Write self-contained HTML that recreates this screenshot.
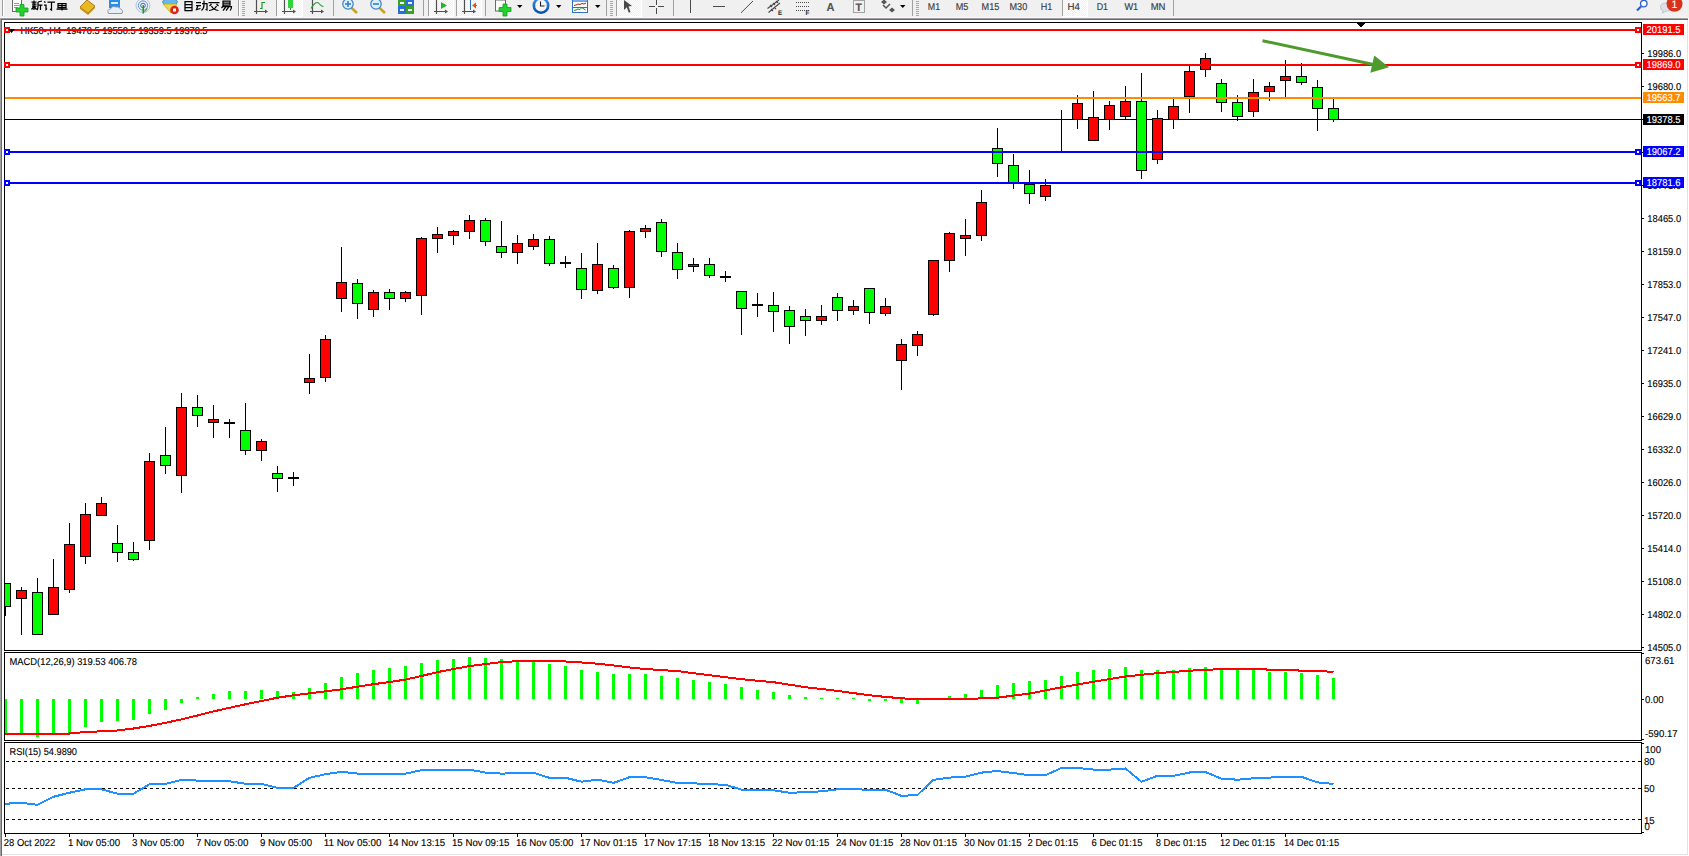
<!DOCTYPE html><html><head><meta charset="utf-8"><style>html,body{margin:0;padding:0;background:#fff;}body{width:1689px;height:856px;overflow:hidden;position:relative;font-family:"Liberation Sans", sans-serif;}svg{position:absolute;left:0;top:0;display:block;}text{font-family:"Liberation Sans",sans-serif;text-rendering:geometricPrecision;}</style></head><body>
<svg width="1689" height="856" viewBox="0 0 1689 856">
<rect x="0" y="0" width="1689" height="856" fill="#fff"/>
<rect x="0" y="0" width="1689" height="18" fill="#f0f0f0"/>
<g font-family="Liberation Sans, sans-serif">
<defs><pattern id="chk" x="0" y="0" width="2" height="2" patternUnits="userSpaceOnUse"><rect x="0" y="0" width="2" height="2" fill="#f0f0f0"/><rect x="0" y="0" width="1" height="1" fill="#fff"/><rect x="1" y="1" width="1" height="1" fill="#fff"/></pattern></defs>
<rect x="2" y="0" width="1" height="16" fill="#a0a0a0"/>
<rect x="3" y="0" width="1" height="16" fill="#ffffff"/>
<path d="M12.5,0 V11.5 H19 M12.5,0 H21.5 V6" fill="#fff" stroke="#7a7a7a" stroke-width="1"/>
<rect x="13" y="0" width="8" height="11" fill="#fdfdfd"/>
<path d="M12.5,0 V11.5 H17.5 M21.5,0 V5" fill="none" stroke="#6a6a6a" stroke-width="1"/>
<rect x="14" y="3" width="5" height="1" fill="#9a9a9a"/>
<rect x="14" y="5" width="5" height="1" fill="#9a9a9a"/>
<rect x="14" y="7" width="4" height="1" fill="#9a9a9a"/>
<path d="M20,4.5 h4 v3.5 h4 v4 h-4 v4 h-4 v-4 h-4 v-4 h4 z" fill="#22d22e" stroke="#159c1e" stroke-width="0.8"/>
<path d="M31,1.5 h5 M31.5,3.5 h4.5 M33.5,0 v9.5 M31.5,5.5 h4.5 M31,9 l2,-2.5 M36,9 l-2,-2.5 M37.5,1.5 v4 q0,3 -1,4 M37.5,4.5 h4.5 M40,4.5 v5 M37.5,1.5 l4,-1 M43.5,1 l1.5,1 M43.5,4.5 h2 v4.5 l1,-1 M47.0,1.5 h7.5 M51.0,1.5 v8 l-1.5,-1 M57.5,3 h8 v4 h-8 z M57.5,5 h8 M61.5,3 v7 M56,8.5 h11" fill="none" stroke="#000" stroke-width="1.25" transform="translate(0.5,0.5)"/>
<path d="M80,7 L87,0 L95,6 L88,13 Z" fill="#e8b923" stroke="#a9791a" stroke-width="1"/>
<path d="M80,7 L80,9 L88,15 L95,8 L95,6 L88,13 Z" fill="#c79416"/>
<rect x="109" y="0" width="11" height="8" fill="#2a8ee8"/>
<rect x="111" y="2" width="7" height="2" fill="#d9efff"/>
<path d="M108.5,13.5 Q106.5,9.5 110.5,9 Q112,5.5 116,7 Q119,6 120.5,9 Q123.5,10 122,13.5 Z" fill="#e8eef6" stroke="#8797b0" stroke-width="1"/>
<circle cx="143" cy="5.5" r="7" fill="none" stroke="#a9c3e8" stroke-width="1"/>
<circle cx="143" cy="5.5" r="4.6" fill="none" stroke="#5f8fd6" stroke-width="1"/>
<circle cx="143" cy="5.5" r="2.3" fill="none" stroke="#2f68c6" stroke-width="1"/>
<path d="M147,8 A5,5 0 0 1 143,12" fill="none" stroke="#5ab55a" stroke-width="1.2"/>
<rect x="142.5" y="5" width="1.5" height="8.5" fill="#1f9a2a"/>
<ellipse cx="170" cy="2" rx="7.5" ry="3.5" fill="#67b8e8" stroke="#3a88c0" stroke-width="0.8"/>
<path d="M163,4 L177,4 L171,13 Z" fill="#f1d54a" stroke="#c9a21e" stroke-width="0.8"/>
<circle cx="174.5" cy="10" r="4.3" fill="#d8261c"/>
<rect x="173" y="8.5" width="3" height="3" fill="#fff"/>
<path d="M184.5,1 h7 v9 h-7 z M184.5,4 h7 M184.5,7 h7 M195.5,2 h5 M195.5,5 h5 M197.5,5 l-1.5,4 l4,-1 M201.5,3 h5 v6.5 l-1.5,-0.5 M203.5,0 v4 q0,4 -2.5,6 M208,2 h11 M211,3.5 l-2,2 M216,3.5 l2,2 M211,5.5 q2,4 7,4.5 M216,5.5 q-2,4 -7.5,4.5 M222.5,0.5 h7 v4 h-7 z M222.5,2.5 h7 M223.5,4.5 l-2.5,3 M222.5,6 h8.5 q0,3 -1.5,4 M225.5,6 l-3,4 M228.5,6 l-3,4" fill="none" stroke="#000" stroke-width="1.25" transform="translate(0.5,0.5)"/>
<rect x="238" y="0" width="1" height="16" fill="#a0a0a0"/>
<rect x="239" y="0" width="1" height="16" fill="#ffffff"/>
<rect x="242" y="1" width="3" height="1" fill="#a8a8a8"/>
<rect x="242" y="3" width="3" height="1" fill="#a8a8a8"/>
<rect x="242" y="5" width="3" height="1" fill="#a8a8a8"/>
<rect x="242" y="7" width="3" height="1" fill="#a8a8a8"/>
<rect x="242" y="9" width="3" height="1" fill="#a8a8a8"/>
<rect x="242" y="11" width="3" height="1" fill="#a8a8a8"/>
<rect x="242" y="13" width="3" height="1" fill="#a8a8a8"/>
<rect x="242" y="15" width="3" height="1" fill="#a8a8a8"/>
<path d="M256.5,0 V14 M254,11.5 H267" fill="none" stroke="#505050" stroke-width="1.2"/><path d="M265,9.5 L268,11.5 L265,13.5 Z" fill="#505050"/>
<path d="M260,8.5 h2 v-6 h3" fill="none" stroke="#1f9a2a" stroke-width="1.2"/>
<rect x="276" y="0" width="1" height="16" fill="#a0a0a0"/>
<rect x="277" y="0" width="25" height="16" fill="url(#chk)"/>
<rect x="277" y="16" width="26" height="1" fill="#fff"/>
<rect x="302" y="0" width="1" height="16" fill="#fff"/>
<path d="M284.5,0 V14 M282,11.5 H295" fill="none" stroke="#505050" stroke-width="1.2"/><path d="M293,9.5 L296,11.5 L293,13.5 Z" fill="#505050"/>
<rect x="288" y="0" width="5" height="8" fill="#2fd33a"/>
<rect x="290" y="8" width="1" height="2" fill="#1f9a2a"/>
<path d="M312.5,0 V14 M310,11.5 H323" fill="none" stroke="#505050" stroke-width="1.2"/><path d="M321,9.5 L324,11.5 L321,13.5 Z" fill="#505050"/>
<path d="M311,8.5 Q316,0 319,3.5 T323.5,6.5" fill="none" stroke="#2b9a35" stroke-width="1.1"/>
<rect x="333" y="0" width="1" height="16" fill="#a0a0a0"/>
<line x1="351" y1="7.5" x2="357" y2="13" stroke="#c9a21e" stroke-width="2.6"/>
<circle cx="348" cy="4" r="5.2" fill="#dbeffa" stroke="#3a80c6" stroke-width="1.2"/>
<rect x="345" y="3.2" width="6" height="1.6" fill="#3a80c6"/>
<rect x="347.2" y="1" width="1.6" height="6" fill="#3a80c6"/>
<line x1="379" y1="7.5" x2="385" y2="13" stroke="#c9a21e" stroke-width="2.6"/>
<circle cx="376" cy="4" r="5.2" fill="#dbeffa" stroke="#3a80c6" stroke-width="1.2"/>
<rect x="373" y="3.2" width="6" height="1.6" fill="#3a80c6"/>
<rect x="398" y="0" width="8" height="6" fill="#3aa02a"/>
<rect x="406" y="0" width="8" height="6" fill="#2a6fd6"/>
<rect x="398" y="6" width="8" height="8" fill="#2a6fd6"/>
<rect x="406" y="6" width="8" height="8" fill="#3aa02a"/>
<rect x="400" y="2" width="4" height="2" fill="#eef"/>
<rect x="408" y="2" width="4" height="2" fill="#eef"/>
<rect x="400" y="9" width="4" height="2" fill="#eef"/>
<rect x="408" y="9" width="4" height="2" fill="#eef"/>
<rect x="423" y="0" width="1" height="16" fill="#a0a0a0"/>
<rect x="428" y="0" width="1" height="16" fill="#a0a0a0"/>
<rect x="429" y="0" width="24" height="16" fill="url(#chk)"/>
<rect x="429" y="16" width="25" height="1" fill="#fff"/>
<rect x="453" y="0" width="1" height="16" fill="#fff"/>
<path d="M436.5,0 V14 M434,11.5 H447" fill="none" stroke="#505050" stroke-width="1.2"/><path d="M445,9.5 L448,11.5 L445,13.5 Z" fill="#505050"/>
<polygon points="441,2 447,5.5 441,9" fill="#22b52e"/>
<rect x="456" y="0" width="1" height="16" fill="#a0a0a0"/>
<rect x="457" y="0" width="24" height="16" fill="url(#chk)"/>
<rect x="457" y="16" width="25" height="1" fill="#fff"/>
<rect x="481" y="0" width="1" height="16" fill="#fff"/>
<path d="M464.5,0 V14 M462,11.5 H475" fill="none" stroke="#505050" stroke-width="1.2"/><path d="M473,9.5 L476,11.5 L473,13.5 Z" fill="#505050"/>
<rect x="470" y="0" width="1" height="10" fill="#2a6fb6"/>
<path d="M472,5.5 L476,2.5 L476,8.5 Z" fill="#e0561b"/>
<rect x="474" y="5" width="3" height="1" fill="#e0561b"/>
<rect x="485" y="0" width="1" height="16" fill="#a0a0a0"/>
<rect x="495.5" y="0" width="10" height="11" fill="#fdfdfd" stroke="#6a6a6a" stroke-width="1"/>
<path d="M503,4 h4 v3.5 h4 v4 h-4 v4.5 h-4 v-4.5 h-4 v-4 h4 z" fill="#22d22e" stroke="#159c1e" stroke-width="0.8"/>
<polygon points="517,5 522.5,5 519.75,8" fill="#000"/>
<defs><linearGradient id="clk" x1="0" y1="0" x2="0" y2="1"><stop offset="0" stop-color="#3d8fe6"/><stop offset="1" stop-color="#0b4fb0"/></linearGradient></defs>
<circle cx="541" cy="5.5" r="7.2" fill="#f4f6f8" stroke="url(#clk)" stroke-width="2.6"/>
<path d="M540.5,1.5 V6 H544.5" fill="none" stroke="#222" stroke-width="1.1"/>
<path d="M541,-0.5 v0.8 M541,10.6 v0.8 M535.5,5.5 h0.8 M545.7,5.5 h0.8" stroke="#999" stroke-width="0.8"/>
<polygon points="556,5 561.5,5 558.75,8" fill="#000"/>
<rect x="572.5" y="-1" width="15" height="13.5" fill="#fff" stroke="#2f6fc6" stroke-width="1"/>
<rect x="573" y="0" width="14" height="2" fill="#7aa8e0"/>
<rect x="573" y="7" width="14" height="1" fill="#2f6fc6"/>
<path d="M574,5.5 l2,-0.5 l2,-1 l2,0.5 l2,-1 l2,0.5 l2,-1" fill="none" stroke="#a0281c" stroke-width="1"/>
<path d="M574,10.5 l2,-0.5 l2,-1 l2,0.5 l2,-2 l2,1.5 l1.5,1" fill="none" stroke="#1f8a2a" stroke-width="1"/>
<polygon points="595,5 600.5,5 597.75,8" fill="#000"/>
<rect x="606" y="0" width="1" height="16" fill="#a0a0a0"/>
<rect x="610" y="1" width="3" height="1" fill="#a8a8a8"/>
<rect x="610" y="3" width="3" height="1" fill="#a8a8a8"/>
<rect x="610" y="5" width="3" height="1" fill="#a8a8a8"/>
<rect x="610" y="7" width="3" height="1" fill="#a8a8a8"/>
<rect x="610" y="9" width="3" height="1" fill="#a8a8a8"/>
<rect x="610" y="11" width="3" height="1" fill="#a8a8a8"/>
<rect x="610" y="13" width="3" height="1" fill="#a8a8a8"/>
<rect x="610" y="15" width="3" height="1" fill="#a8a8a8"/>
<rect x="616" y="0" width="1" height="16" fill="#a0a0a0"/>
<rect x="617" y="0" width="24" height="16" fill="url(#chk)"/>
<rect x="617" y="16" width="25" height="1" fill="#fff"/>
<rect x="641" y="0" width="1" height="16" fill="#fff"/>
<path d="M624,0 L632,6 L628.5,6.5 L630.5,12 L628.8,12.7 L626.8,7.3 L624,10 Z" fill="#4a4a4a"/>
<rect x="649" y="6" width="6" height="1" fill="#4a4a4a"/>
<rect x="658" y="6" width="6" height="1" fill="#4a4a4a"/>
<rect x="656" y="0" width="1" height="5" fill="#4a4a4a"/>
<rect x="656" y="8" width="1" height="6" fill="#4a4a4a"/>
<rect x="673" y="0" width="1" height="16" fill="#a0a0a0"/>
<rect x="690" y="0" width="1" height="13" fill="#4a4a4a"/>
<rect x="713" y="6" width="12" height="1" fill="#4a4a4a"/>
<line x1="741" y1="12.8" x2="753" y2="1" stroke="#4a4a4a" stroke-width="1"/>
<path d="M767.5,8.5 L779,0 M768.5,12.5 L780,3 M770,5 l2,2 M773,3 l2,2 M776,1 l2,2 M771,9 l2,2 M774,7 l2,2" fill="none" stroke="#4a4a4a" stroke-width="1.1"/>
<text transform="translate(778,15) scale(0.96,1)" font-size="6.5" fill="#333" text-anchor="start" font-weight="bold" stroke="#333" stroke-width="0.12">E</text>
<line x1="796" y1="2.5" x2="809" y2="2.5" stroke="#4a4a4a" stroke-width="1" stroke-dasharray="1,1"/>
<line x1="796" y1="6.5" x2="809" y2="6.5" stroke="#4a4a4a" stroke-width="1" stroke-dasharray="1,1"/>
<line x1="796" y1="10.5" x2="809" y2="10.5" stroke="#4a4a4a" stroke-width="1" stroke-dasharray="1,1"/>
<text transform="translate(805.5,15) scale(0.96,1)" font-size="6.5" fill="#333" text-anchor="start" font-weight="bold" stroke="#333" stroke-width="0.12">F</text>
<text transform="translate(826.5,11) scale(0.96,1)" font-size="11.5" fill="#555" text-anchor="start" font-weight="bold" stroke="#555" stroke-width="0.12">A</text>
<rect x="853.5" y="0.5" width="11" height="12" fill="none" stroke="#555" stroke-width="1" stroke-dasharray="1,1"/>
<text transform="translate(855.5,10.5) scale(0.96,1)" font-size="11" fill="#555" text-anchor="start" font-weight="bold" stroke="#555" stroke-width="0.12">T</text>
<path d="M881,2 l3,-2.5 l3,2.5 l-3,2.5 z M889,10 l3,-2.5 l3,2.5 l-3,2.5 z" fill="#555"/>
<path d="M883,5 l3,3 l4,-4" fill="none" stroke="#555" stroke-width="1.5"/>
<polygon points="900,5 905.5,5 902.75,8" fill="#000"/>
<rect x="912" y="0" width="1" height="16" fill="#a0a0a0"/>
<rect x="916" y="1" width="3" height="1" fill="#a8a8a8"/>
<rect x="916" y="3" width="3" height="1" fill="#a8a8a8"/>
<rect x="916" y="5" width="3" height="1" fill="#a8a8a8"/>
<rect x="916" y="7" width="3" height="1" fill="#a8a8a8"/>
<rect x="916" y="9" width="3" height="1" fill="#a8a8a8"/>
<rect x="916" y="11" width="3" height="1" fill="#a8a8a8"/>
<rect x="916" y="13" width="3" height="1" fill="#a8a8a8"/>
<rect x="916" y="15" width="3" height="1" fill="#a8a8a8"/>
<text x="927.8" y="10" font-size="10" fill="#3a3a3a" text-anchor="start" textLength="12.3" lengthAdjust="spacingAndGlyphs" stroke="#3a3a3a" stroke-width="0.15">M1</text>
<text x="955.7" y="10" font-size="10" fill="#3a3a3a" text-anchor="start" textLength="12.6" lengthAdjust="spacingAndGlyphs" stroke="#3a3a3a" stroke-width="0.15">M5</text>
<text x="981.6" y="10" font-size="10" fill="#3a3a3a" text-anchor="start" textLength="17.7" lengthAdjust="spacingAndGlyphs" stroke="#3a3a3a" stroke-width="0.15">M15</text>
<text x="1009.5" y="10" font-size="10" fill="#3a3a3a" text-anchor="start" textLength="17.7" lengthAdjust="spacingAndGlyphs" stroke="#3a3a3a" stroke-width="0.15">M30</text>
<text x="1040.7" y="10" font-size="10" fill="#3a3a3a" text-anchor="start" textLength="11.5" lengthAdjust="spacingAndGlyphs" stroke="#3a3a3a" stroke-width="0.15">H1</text>
<rect x="1062" y="0" width="1" height="16" fill="#a0a0a0"/>
<rect x="1063" y="0" width="24" height="16" fill="url(#chk)"/>
<rect x="1063" y="16" width="25" height="1" fill="#fff"/>
<rect x="1087" y="0" width="1" height="16" fill="#fff"/>
<text x="1067.6" y="10" font-size="10" fill="#3a3a3a" text-anchor="start" textLength="12.4" lengthAdjust="spacingAndGlyphs" stroke="#3a3a3a" stroke-width="0.15">H4</text>
<text x="1096.7" y="10" font-size="10" fill="#3a3a3a" text-anchor="start" textLength="11.3" lengthAdjust="spacingAndGlyphs" stroke="#3a3a3a" stroke-width="0.15">D1</text>
<text x="1124.4" y="10" font-size="10" fill="#3a3a3a" text-anchor="start" textLength="13.8" lengthAdjust="spacingAndGlyphs" stroke="#3a3a3a" stroke-width="0.15">W1</text>
<text x="1150.7" y="10" font-size="10" fill="#3a3a3a" text-anchor="start" textLength="14.8" lengthAdjust="spacingAndGlyphs" stroke="#3a3a3a" stroke-width="0.15">MN</text>
<rect x="1173" y="0" width="1" height="16" fill="#a0a0a0"/>
<line x1="1637" y1="10.5" x2="1641" y2="6.5" stroke="#2a5fd0" stroke-width="2.2"/>
<circle cx="1643.8" cy="3.6" r="3.3" fill="#fff" stroke="#2a5fd0" stroke-width="1.3"/>
<path d="M1662,13 l1.5,-2 q-3,-1 -3,-4 q0,-4 6,-4 q6,0 6,4 q0,4 -6,4 z" fill="#dde0e8" stroke="#b8bcc6" stroke-width="0.8"/>
<circle cx="1674.5" cy="3.8" r="8" fill="#d8321c"/>
<text transform="translate(1674.5,7.5) scale(0.96,1)" font-size="11" fill="#fff" text-anchor="middle" font-family="Liberation Serif, serif" stroke="#fff" stroke-width="0.12">1</text>
</g>
<g shape-rendering="crispEdges">
<rect x="0" y="17" width="1688" height="1" fill="#f7f7f7"/>
<rect x="0" y="18" width="1688" height="1" fill="#a0a0a0"/>
<rect x="1" y="19" width="1687" height="1" fill="#696969"/>
<rect x="0" y="18" width="1" height="838" fill="#a0a0a0"/>
<rect x="1" y="19" width="1" height="837" fill="#696969"/>
<rect x="1687" y="20" width="1" height="835" fill="#e3e3e3"/>
<rect x="2" y="854" width="1686" height="1" fill="#e3e3e3"/>
</g>
<defs><clipPath id="cm"><rect x="5" y="23" width="1636" height="627"/></clipPath><clipPath id="cmacd"><rect x="5" y="653" width="1636" height="87"/></clipPath><clipPath id="crsi"><rect x="5" y="743" width="1636" height="90"/></clipPath></defs>
<g shape-rendering="crispEdges">
<rect x="4" y="22" width="1638" height="1" fill="#000"/>
<rect x="4" y="650" width="1638" height="1" fill="#000"/>
<rect x="4" y="22" width="1" height="629" fill="#000"/>
<rect x="1641" y="22" width="1" height="629" fill="#000"/>
<rect x="4" y="652" width="1638" height="1" fill="#000"/>
<rect x="4" y="740" width="1638" height="1" fill="#000"/>
<rect x="4" y="652" width="1" height="89" fill="#000"/>
<rect x="1641" y="652" width="1" height="89" fill="#000"/>
<rect x="4" y="742" width="1638" height="1" fill="#000"/>
<rect x="4" y="833" width="1638" height="1" fill="#000"/>
<rect x="4" y="742" width="1" height="92" fill="#000"/>
<rect x="1641" y="742" width="1" height="92" fill="#000"/>
</g>
<g font-family="Liberation Sans, sans-serif">
<text x="20.5" y="34" font-size="10" fill="#000" text-anchor="start" textLength="187" lengthAdjust="spacingAndGlyphs" stroke="#000" stroke-width="0.2">HK50-,H4&#160;&#160;19470.5 19550.5 19359.5 19378.5</text>
</g>
<g clip-path="url(#cm)" shape-rendering="crispEdges">
<rect x="5" y="119" width="1636" height="1" fill="#000"/>
<rect x="5" y="583" width="1" height="33" fill="#000"/>
<rect x="0" y="583" width="11" height="24" fill="#000"/>
<rect x="1" y="584" width="9" height="22" fill="#00ff00"/>
<rect x="21" y="587" width="1" height="48" fill="#000"/>
<rect x="16" y="590" width="11" height="9" fill="#000"/>
<rect x="17" y="591" width="9" height="7" fill="#ff0000"/>
<rect x="37" y="578" width="1" height="57" fill="#000"/>
<rect x="32" y="592" width="11" height="43" fill="#000"/>
<rect x="33" y="593" width="9" height="41" fill="#00ff00"/>
<rect x="53" y="559" width="1" height="56" fill="#000"/>
<rect x="48" y="587" width="11" height="28" fill="#000"/>
<rect x="49" y="588" width="9" height="26" fill="#ff0000"/>
<rect x="69" y="523" width="1" height="70" fill="#000"/>
<rect x="64" y="544" width="11" height="46" fill="#000"/>
<rect x="65" y="545" width="9" height="44" fill="#ff0000"/>
<rect x="85" y="503" width="1" height="61" fill="#000"/>
<rect x="80" y="514" width="11" height="43" fill="#000"/>
<rect x="81" y="515" width="9" height="41" fill="#ff0000"/>
<rect x="101" y="497" width="1" height="19" fill="#000"/>
<rect x="96" y="503" width="11" height="13" fill="#000"/>
<rect x="97" y="504" width="9" height="11" fill="#ff0000"/>
<rect x="117" y="525" width="1" height="37" fill="#000"/>
<rect x="112" y="543" width="11" height="10" fill="#000"/>
<rect x="113" y="544" width="9" height="8" fill="#00ff00"/>
<rect x="133" y="542" width="1" height="19" fill="#000"/>
<rect x="128" y="552" width="11" height="8" fill="#000"/>
<rect x="129" y="553" width="9" height="6" fill="#00ff00"/>
<rect x="149" y="453" width="1" height="97" fill="#000"/>
<rect x="144" y="461" width="11" height="80" fill="#000"/>
<rect x="145" y="462" width="9" height="78" fill="#ff0000"/>
<rect x="165" y="427" width="1" height="47" fill="#000"/>
<rect x="160" y="455" width="11" height="11" fill="#000"/>
<rect x="161" y="456" width="9" height="9" fill="#00ff00"/>
<rect x="181" y="393" width="1" height="100" fill="#000"/>
<rect x="176" y="407" width="11" height="69" fill="#000"/>
<rect x="177" y="408" width="9" height="67" fill="#ff0000"/>
<rect x="197" y="395" width="1" height="32" fill="#000"/>
<rect x="192" y="407" width="11" height="9" fill="#000"/>
<rect x="193" y="408" width="9" height="7" fill="#00ff00"/>
<rect x="213" y="405" width="1" height="33" fill="#000"/>
<rect x="208" y="419" width="11" height="4" fill="#000"/>
<rect x="209" y="420" width="9" height="2" fill="#ff0000"/>
<rect x="229" y="419" width="1" height="19" fill="#000"/>
<rect x="224" y="422" width="11" height="2" fill="#000"/>
<rect x="245" y="403" width="1" height="52" fill="#000"/>
<rect x="240" y="430" width="11" height="21" fill="#000"/>
<rect x="241" y="431" width="9" height="19" fill="#00ff00"/>
<rect x="261" y="439" width="1" height="22" fill="#000"/>
<rect x="256" y="441" width="11" height="10" fill="#000"/>
<rect x="257" y="442" width="9" height="8" fill="#ff0000"/>
<rect x="277" y="466" width="1" height="26" fill="#000"/>
<rect x="272" y="473" width="11" height="6" fill="#000"/>
<rect x="273" y="474" width="9" height="4" fill="#00ff00"/>
<rect x="293" y="472" width="1" height="14" fill="#000"/>
<rect x="288" y="477" width="11" height="2" fill="#000"/>
<rect x="309" y="354" width="1" height="40" fill="#000"/>
<rect x="304" y="378" width="11" height="5" fill="#000"/>
<rect x="305" y="379" width="9" height="3" fill="#ff0000"/>
<rect x="325" y="335" width="1" height="47" fill="#000"/>
<rect x="320" y="339" width="11" height="39" fill="#000"/>
<rect x="321" y="340" width="9" height="37" fill="#ff0000"/>
<rect x="341" y="247" width="1" height="65" fill="#000"/>
<rect x="336" y="282" width="11" height="17" fill="#000"/>
<rect x="337" y="283" width="9" height="15" fill="#ff0000"/>
<rect x="357" y="279" width="1" height="40" fill="#000"/>
<rect x="352" y="283" width="11" height="21" fill="#000"/>
<rect x="353" y="284" width="9" height="19" fill="#00ff00"/>
<rect x="373" y="290" width="1" height="27" fill="#000"/>
<rect x="368" y="292" width="11" height="18" fill="#000"/>
<rect x="369" y="293" width="9" height="16" fill="#ff0000"/>
<rect x="389" y="289" width="1" height="21" fill="#000"/>
<rect x="384" y="292" width="11" height="7" fill="#000"/>
<rect x="385" y="293" width="9" height="5" fill="#00ff00"/>
<rect x="405" y="291" width="1" height="11" fill="#000"/>
<rect x="400" y="292" width="11" height="7" fill="#000"/>
<rect x="401" y="293" width="9" height="5" fill="#ff0000"/>
<rect x="421" y="237" width="1" height="78" fill="#000"/>
<rect x="416" y="238" width="11" height="58" fill="#000"/>
<rect x="417" y="239" width="9" height="56" fill="#ff0000"/>
<rect x="437" y="227" width="1" height="26" fill="#000"/>
<rect x="432" y="234" width="11" height="5" fill="#000"/>
<rect x="433" y="235" width="9" height="3" fill="#ff0000"/>
<rect x="453" y="230" width="1" height="15" fill="#000"/>
<rect x="448" y="231" width="11" height="5" fill="#000"/>
<rect x="449" y="232" width="9" height="3" fill="#ff0000"/>
<rect x="469" y="215" width="1" height="24" fill="#000"/>
<rect x="464" y="220" width="11" height="12" fill="#000"/>
<rect x="465" y="221" width="9" height="10" fill="#ff0000"/>
<rect x="485" y="218" width="1" height="28" fill="#000"/>
<rect x="480" y="220" width="11" height="22" fill="#000"/>
<rect x="481" y="221" width="9" height="20" fill="#00ff00"/>
<rect x="501" y="221" width="1" height="37" fill="#000"/>
<rect x="496" y="246" width="11" height="7" fill="#000"/>
<rect x="497" y="247" width="9" height="5" fill="#00ff00"/>
<rect x="517" y="235" width="1" height="29" fill="#000"/>
<rect x="512" y="243" width="11" height="10" fill="#000"/>
<rect x="513" y="244" width="9" height="8" fill="#ff0000"/>
<rect x="533" y="234" width="1" height="16" fill="#000"/>
<rect x="528" y="239" width="11" height="8" fill="#000"/>
<rect x="529" y="240" width="9" height="6" fill="#ff0000"/>
<rect x="549" y="236" width="1" height="30" fill="#000"/>
<rect x="544" y="239" width="11" height="25" fill="#000"/>
<rect x="545" y="240" width="9" height="23" fill="#00ff00"/>
<rect x="565" y="256" width="1" height="12" fill="#000"/>
<rect x="560" y="262" width="11" height="2" fill="#000"/>
<rect x="581" y="253" width="1" height="46" fill="#000"/>
<rect x="576" y="268" width="11" height="22" fill="#000"/>
<rect x="577" y="269" width="9" height="20" fill="#00ff00"/>
<rect x="597" y="243" width="1" height="51" fill="#000"/>
<rect x="592" y="264" width="11" height="27" fill="#000"/>
<rect x="593" y="265" width="9" height="25" fill="#ff0000"/>
<rect x="613" y="265" width="1" height="24" fill="#000"/>
<rect x="608" y="268" width="11" height="20" fill="#000"/>
<rect x="609" y="269" width="9" height="18" fill="#00ff00"/>
<rect x="629" y="230" width="1" height="68" fill="#000"/>
<rect x="624" y="231" width="11" height="57" fill="#000"/>
<rect x="625" y="232" width="9" height="55" fill="#ff0000"/>
<rect x="645" y="225" width="1" height="13" fill="#000"/>
<rect x="640" y="228" width="11" height="4" fill="#000"/>
<rect x="641" y="229" width="9" height="2" fill="#ff0000"/>
<rect x="661" y="219" width="1" height="38" fill="#000"/>
<rect x="656" y="222" width="11" height="30" fill="#000"/>
<rect x="657" y="223" width="9" height="28" fill="#00ff00"/>
<rect x="677" y="243" width="1" height="36" fill="#000"/>
<rect x="672" y="252" width="11" height="18" fill="#000"/>
<rect x="673" y="253" width="9" height="16" fill="#00ff00"/>
<rect x="693" y="258" width="1" height="14" fill="#000"/>
<rect x="688" y="264" width="11" height="3" fill="#000"/>
<rect x="689" y="265" width="9" height="1" fill="#ff0000"/>
<rect x="709" y="258" width="1" height="20" fill="#000"/>
<rect x="704" y="264" width="11" height="12" fill="#000"/>
<rect x="705" y="265" width="9" height="10" fill="#00ff00"/>
<rect x="725" y="271" width="1" height="11" fill="#000"/>
<rect x="720" y="276" width="11" height="2" fill="#000"/>
<rect x="741" y="291" width="1" height="44" fill="#000"/>
<rect x="736" y="291" width="11" height="18" fill="#000"/>
<rect x="737" y="292" width="9" height="16" fill="#00ff00"/>
<rect x="757" y="293" width="1" height="24" fill="#000"/>
<rect x="752" y="304" width="11" height="2" fill="#000"/>
<rect x="773" y="292" width="1" height="40" fill="#000"/>
<rect x="768" y="305" width="11" height="7" fill="#000"/>
<rect x="769" y="306" width="9" height="5" fill="#00ff00"/>
<rect x="789" y="306" width="1" height="38" fill="#000"/>
<rect x="784" y="310" width="11" height="17" fill="#000"/>
<rect x="785" y="311" width="9" height="15" fill="#00ff00"/>
<rect x="805" y="309" width="1" height="27" fill="#000"/>
<rect x="800" y="316" width="11" height="5" fill="#000"/>
<rect x="801" y="317" width="9" height="3" fill="#00ff00"/>
<rect x="821" y="305" width="1" height="20" fill="#000"/>
<rect x="816" y="316" width="11" height="5" fill="#000"/>
<rect x="817" y="317" width="9" height="3" fill="#ff0000"/>
<rect x="837" y="293" width="1" height="28" fill="#000"/>
<rect x="832" y="297" width="11" height="14" fill="#000"/>
<rect x="833" y="298" width="9" height="12" fill="#00ff00"/>
<rect x="853" y="300" width="1" height="15" fill="#000"/>
<rect x="848" y="306" width="11" height="5" fill="#000"/>
<rect x="849" y="307" width="9" height="3" fill="#ff0000"/>
<rect x="869" y="288" width="1" height="36" fill="#000"/>
<rect x="864" y="288" width="11" height="25" fill="#000"/>
<rect x="865" y="289" width="9" height="23" fill="#00ff00"/>
<rect x="885" y="298" width="1" height="18" fill="#000"/>
<rect x="880" y="306" width="11" height="8" fill="#000"/>
<rect x="881" y="307" width="9" height="6" fill="#ff0000"/>
<rect x="901" y="339" width="1" height="51" fill="#000"/>
<rect x="896" y="344" width="11" height="17" fill="#000"/>
<rect x="897" y="345" width="9" height="15" fill="#ff0000"/>
<rect x="917" y="331" width="1" height="25" fill="#000"/>
<rect x="912" y="334" width="11" height="12" fill="#000"/>
<rect x="913" y="335" width="9" height="10" fill="#ff0000"/>
<rect x="933" y="260" width="1" height="56" fill="#000"/>
<rect x="928" y="260" width="11" height="55" fill="#000"/>
<rect x="929" y="261" width="9" height="53" fill="#ff0000"/>
<rect x="949" y="232" width="1" height="40" fill="#000"/>
<rect x="944" y="233" width="11" height="28" fill="#000"/>
<rect x="945" y="234" width="9" height="26" fill="#ff0000"/>
<rect x="965" y="219" width="1" height="37" fill="#000"/>
<rect x="960" y="235" width="11" height="4" fill="#000"/>
<rect x="961" y="236" width="9" height="2" fill="#ff0000"/>
<rect x="981" y="190" width="1" height="51" fill="#000"/>
<rect x="976" y="202" width="11" height="34" fill="#000"/>
<rect x="977" y="203" width="9" height="32" fill="#ff0000"/>
<rect x="997" y="128" width="1" height="49" fill="#000"/>
<rect x="992" y="148" width="11" height="16" fill="#000"/>
<rect x="993" y="149" width="9" height="14" fill="#00ff00"/>
<rect x="1013" y="154" width="1" height="35" fill="#000"/>
<rect x="1008" y="165" width="11" height="18" fill="#000"/>
<rect x="1009" y="166" width="9" height="16" fill="#00ff00"/>
<rect x="1029" y="170" width="1" height="34" fill="#000"/>
<rect x="1024" y="184" width="11" height="10" fill="#000"/>
<rect x="1025" y="185" width="9" height="8" fill="#00ff00"/>
<rect x="1045" y="179" width="1" height="22" fill="#000"/>
<rect x="1040" y="185" width="11" height="12" fill="#000"/>
<rect x="1041" y="186" width="9" height="10" fill="#ff0000"/>
<rect x="1061" y="110" width="1" height="41" fill="#000"/>
<rect x="1056" y="119" width="11" height="1" fill="#000"/>
<rect x="1077" y="95" width="1" height="34" fill="#000"/>
<rect x="1072" y="103" width="11" height="17" fill="#000"/>
<rect x="1073" y="104" width="9" height="15" fill="#ff0000"/>
<rect x="1093" y="91" width="1" height="50" fill="#000"/>
<rect x="1088" y="117" width="11" height="24" fill="#000"/>
<rect x="1089" y="118" width="9" height="22" fill="#ff0000"/>
<rect x="1109" y="101" width="1" height="29" fill="#000"/>
<rect x="1104" y="105" width="11" height="15" fill="#000"/>
<rect x="1105" y="106" width="9" height="13" fill="#ff0000"/>
<rect x="1125" y="86" width="1" height="33" fill="#000"/>
<rect x="1120" y="101" width="11" height="16" fill="#000"/>
<rect x="1121" y="102" width="9" height="14" fill="#ff0000"/>
<rect x="1141" y="73" width="1" height="106" fill="#000"/>
<rect x="1136" y="101" width="11" height="70" fill="#000"/>
<rect x="1137" y="102" width="9" height="68" fill="#00ff00"/>
<rect x="1157" y="110" width="1" height="54" fill="#000"/>
<rect x="1152" y="118" width="11" height="42" fill="#000"/>
<rect x="1153" y="119" width="9" height="40" fill="#ff0000"/>
<rect x="1173" y="99" width="1" height="30" fill="#000"/>
<rect x="1168" y="106" width="11" height="14" fill="#000"/>
<rect x="1169" y="107" width="9" height="12" fill="#ff0000"/>
<rect x="1189" y="66" width="1" height="47" fill="#000"/>
<rect x="1184" y="71" width="11" height="26" fill="#000"/>
<rect x="1185" y="72" width="9" height="24" fill="#ff0000"/>
<rect x="1205" y="53" width="1" height="24" fill="#000"/>
<rect x="1200" y="58" width="11" height="12" fill="#000"/>
<rect x="1201" y="59" width="9" height="10" fill="#ff0000"/>
<rect x="1221" y="79" width="1" height="33" fill="#000"/>
<rect x="1216" y="83" width="11" height="20" fill="#000"/>
<rect x="1217" y="84" width="9" height="18" fill="#00ff00"/>
<rect x="1237" y="95" width="1" height="26" fill="#000"/>
<rect x="1232" y="102" width="11" height="15" fill="#000"/>
<rect x="1233" y="103" width="9" height="13" fill="#00ff00"/>
<rect x="1253" y="79" width="1" height="38" fill="#000"/>
<rect x="1248" y="92" width="11" height="20" fill="#000"/>
<rect x="1249" y="93" width="9" height="18" fill="#ff0000"/>
<rect x="1269" y="82" width="1" height="19" fill="#000"/>
<rect x="1264" y="86" width="11" height="6" fill="#000"/>
<rect x="1265" y="87" width="9" height="4" fill="#ff0000"/>
<rect x="1285" y="60" width="1" height="37" fill="#000"/>
<rect x="1280" y="76" width="11" height="5" fill="#000"/>
<rect x="1281" y="77" width="9" height="3" fill="#ff0000"/>
<rect x="1301" y="63" width="1" height="22" fill="#000"/>
<rect x="1296" y="76" width="11" height="7" fill="#000"/>
<rect x="1297" y="77" width="9" height="5" fill="#00ff00"/>
<rect x="1317" y="80" width="1" height="51" fill="#000"/>
<rect x="1312" y="87" width="11" height="22" fill="#000"/>
<rect x="1313" y="88" width="9" height="20" fill="#00ff00"/>
<rect x="1333" y="99" width="1" height="23" fill="#000"/>
<rect x="1328" y="108" width="11" height="12" fill="#000"/>
<rect x="1329" y="109" width="9" height="10" fill="#00ff00"/>
<rect x="5" y="29" width="1636" height="2" fill="#ff0000"/>
<rect x="4" y="27" width="6" height="6" fill="#ff0000"/>
<rect x="6" y="29" width="2" height="2" fill="#fff"/>
<rect x="1635" y="27" width="6" height="6" fill="#ff0000"/>
<rect x="1637" y="29" width="2" height="2" fill="#fff"/>
<rect x="5" y="64" width="1636" height="2" fill="#ff0000"/>
<rect x="4" y="62" width="6" height="6" fill="#ff0000"/>
<rect x="6" y="64" width="2" height="2" fill="#fff"/>
<rect x="1635" y="62" width="6" height="6" fill="#ff0000"/>
<rect x="1637" y="64" width="2" height="2" fill="#fff"/>
<rect x="5" y="97" width="1636" height="2" fill="#ff8c00"/>
<rect x="5" y="151" width="1636" height="2" fill="#0000ff"/>
<rect x="4" y="149" width="6" height="6" fill="#0000ff"/>
<rect x="6" y="151" width="2" height="2" fill="#fff"/>
<rect x="1635" y="149" width="6" height="6" fill="#0000ff"/>
<rect x="1637" y="151" width="2" height="2" fill="#fff"/>
<rect x="5" y="182" width="1636" height="2" fill="#0000ff"/>
<rect x="4" y="180" width="6" height="6" fill="#0000ff"/>
<rect x="6" y="182" width="2" height="2" fill="#fff"/>
<rect x="1635" y="180" width="6" height="6" fill="#0000ff"/>
<rect x="1637" y="182" width="2" height="2" fill="#fff"/>
<polygon points="1356.5,23 1365.5,23 1361,28" fill="#000"/>
</g>
<g shape-rendering="crispEdges">
<rect x="4" y="27" width="6" height="6" fill="#ff0000"/>
<rect x="6" y="29" width="2" height="2" fill="#fff"/>
<rect x="1635" y="27" width="6" height="6" fill="#ff0000"/>
<rect x="1637" y="29" width="2" height="2" fill="#fff"/>
<rect x="4" y="62" width="6" height="6" fill="#ff0000"/>
<rect x="6" y="64" width="2" height="2" fill="#fff"/>
<rect x="1635" y="62" width="6" height="6" fill="#ff0000"/>
<rect x="1637" y="64" width="2" height="2" fill="#fff"/>
<rect x="4" y="149" width="6" height="6" fill="#0000ff"/>
<rect x="6" y="151" width="2" height="2" fill="#fff"/>
<rect x="1635" y="149" width="6" height="6" fill="#0000ff"/>
<rect x="1637" y="151" width="2" height="2" fill="#fff"/>
<rect x="4" y="180" width="6" height="6" fill="#0000ff"/>
<rect x="6" y="182" width="2" height="2" fill="#fff"/>
<rect x="1635" y="180" width="6" height="6" fill="#0000ff"/>
<rect x="1637" y="182" width="2" height="2" fill="#fff"/>
</g>
<polygon points="8,29 15,29 11.5,33" fill="#000"/>
<g>
<line x1="1262.5" y1="40.7" x2="1378" y2="65.5" stroke="#4f9a2d" stroke-width="3" stroke-linecap="butt"/>
<polygon points="1389,67.3 1374.3,55.5 1370.3,72.8" fill="#4f9a2d"/>
</g>
<g shape-rendering="crispEdges">
<rect x="1642" y="53" width="2" height="1" fill="#000"/>
<rect x="1642" y="86" width="2" height="1" fill="#000"/>
<rect x="1642" y="185" width="2" height="1" fill="#000"/>
<rect x="1642" y="218" width="2" height="1" fill="#000"/>
<rect x="1642" y="251" width="2" height="1" fill="#000"/>
<rect x="1642" y="284" width="2" height="1" fill="#000"/>
<rect x="1642" y="317" width="2" height="1" fill="#000"/>
<rect x="1642" y="350" width="2" height="1" fill="#000"/>
<rect x="1642" y="383" width="2" height="1" fill="#000"/>
<rect x="1642" y="416" width="2" height="1" fill="#000"/>
<rect x="1642" y="449" width="2" height="1" fill="#000"/>
<rect x="1642" y="482" width="2" height="1" fill="#000"/>
<rect x="1642" y="515" width="2" height="1" fill="#000"/>
<rect x="1642" y="548" width="2" height="1" fill="#000"/>
<rect x="1642" y="581" width="2" height="1" fill="#000"/>
<rect x="1642" y="614" width="2" height="1" fill="#000"/>
<rect x="1642" y="647" width="2" height="1" fill="#000"/>
<rect x="1642" y="119" width="2" height="1" fill="#000"/>
<rect x="1642" y="152" width="2" height="1" fill="#000"/>
</g>
<text x="1647.3" y="57" font-size="10" fill="#000" text-anchor="start" textLength="33.8" lengthAdjust="spacingAndGlyphs" stroke="#000" stroke-width="0.12">19986.0</text>
<text x="1647.3" y="90" font-size="10" fill="#000" text-anchor="start" textLength="33.8" lengthAdjust="spacingAndGlyphs" stroke="#000" stroke-width="0.12">19680.0</text>
<text x="1647.3" y="189" font-size="10" fill="#000" text-anchor="start" textLength="33.8" lengthAdjust="spacingAndGlyphs" stroke="#000" stroke-width="0.12">18771.0</text>
<text x="1647.3" y="222" font-size="10" fill="#000" text-anchor="start" textLength="33.8" lengthAdjust="spacingAndGlyphs" stroke="#000" stroke-width="0.12">18465.0</text>
<text x="1647.3" y="255" font-size="10" fill="#000" text-anchor="start" textLength="33.8" lengthAdjust="spacingAndGlyphs" stroke="#000" stroke-width="0.12">18159.0</text>
<text x="1647.3" y="288" font-size="10" fill="#000" text-anchor="start" textLength="33.8" lengthAdjust="spacingAndGlyphs" stroke="#000" stroke-width="0.12">17853.0</text>
<text x="1647.3" y="321" font-size="10" fill="#000" text-anchor="start" textLength="33.8" lengthAdjust="spacingAndGlyphs" stroke="#000" stroke-width="0.12">17547.0</text>
<text x="1647.3" y="354" font-size="10" fill="#000" text-anchor="start" textLength="33.8" lengthAdjust="spacingAndGlyphs" stroke="#000" stroke-width="0.12">17241.0</text>
<text x="1647.3" y="387" font-size="10" fill="#000" text-anchor="start" textLength="33.8" lengthAdjust="spacingAndGlyphs" stroke="#000" stroke-width="0.12">16935.0</text>
<text x="1647.3" y="420" font-size="10" fill="#000" text-anchor="start" textLength="33.8" lengthAdjust="spacingAndGlyphs" stroke="#000" stroke-width="0.12">16629.0</text>
<text x="1647.3" y="453" font-size="10" fill="#000" text-anchor="start" textLength="33.8" lengthAdjust="spacingAndGlyphs" stroke="#000" stroke-width="0.12">16332.0</text>
<text x="1647.3" y="486" font-size="10" fill="#000" text-anchor="start" textLength="33.8" lengthAdjust="spacingAndGlyphs" stroke="#000" stroke-width="0.12">16026.0</text>
<text x="1647.3" y="519" font-size="10" fill="#000" text-anchor="start" textLength="33.8" lengthAdjust="spacingAndGlyphs" stroke="#000" stroke-width="0.12">15720.0</text>
<text x="1647.3" y="552" font-size="10" fill="#000" text-anchor="start" textLength="33.8" lengthAdjust="spacingAndGlyphs" stroke="#000" stroke-width="0.12">15414.0</text>
<text x="1647.3" y="585" font-size="10" fill="#000" text-anchor="start" textLength="33.8" lengthAdjust="spacingAndGlyphs" stroke="#000" stroke-width="0.12">15108.0</text>
<text x="1647.3" y="618" font-size="10" fill="#000" text-anchor="start" textLength="33.8" lengthAdjust="spacingAndGlyphs" stroke="#000" stroke-width="0.12">14802.0</text>
<text x="1647.3" y="651" font-size="10" fill="#000" text-anchor="start" textLength="33.8" lengthAdjust="spacingAndGlyphs" stroke="#000" stroke-width="0.12">14505.0</text>
<g shape-rendering="crispEdges">
<rect x="1643" y="24" width="41" height="11" fill="#ff0000"/>
<rect x="1643" y="59" width="41" height="11" fill="#ff0000"/>
<rect x="1643" y="92" width="41" height="11" fill="#ff8c00"/>
<rect x="1643" y="114" width="41" height="11" fill="#000000"/>
<rect x="1643" y="146" width="41" height="11" fill="#0000ff"/>
<rect x="1643" y="177" width="41" height="11" fill="#0000ff"/>
</g>
<text x="1646.6" y="33" font-size="10" fill="#fff" text-anchor="start" textLength="34.0" lengthAdjust="spacingAndGlyphs" stroke="#fff" stroke-width="0.12">20191.5</text>
<text x="1646.6" y="68" font-size="10" fill="#fff" text-anchor="start" textLength="34.0" lengthAdjust="spacingAndGlyphs" stroke="#fff" stroke-width="0.12">19869.0</text>
<text x="1646.6" y="101" font-size="10" fill="#fff" text-anchor="start" textLength="34.0" lengthAdjust="spacingAndGlyphs" stroke="#fff" stroke-width="0.12">19563.7</text>
<text x="1646.6" y="123" font-size="10" fill="#fff" text-anchor="start" textLength="34.0" lengthAdjust="spacingAndGlyphs" stroke="#fff" stroke-width="0.12">19378.5</text>
<text x="1646.6" y="155" font-size="10" fill="#fff" text-anchor="start" textLength="34.0" lengthAdjust="spacingAndGlyphs" stroke="#fff" stroke-width="0.12">19067.2</text>
<text x="1646.6" y="186" font-size="10" fill="#fff" text-anchor="start" textLength="34.0" lengthAdjust="spacingAndGlyphs" stroke="#fff" stroke-width="0.12">18781.6</text>
<text x="9.5" y="665" font-size="10" fill="#000" text-anchor="start" textLength="127.5" lengthAdjust="spacingAndGlyphs" stroke="#000" stroke-width="0.12">MACD(12,26,9) 319.53 406.78</text>
<g clip-path="url(#cmacd)" shape-rendering="crispEdges">
<rect x="4" y="699" width="3" height="35" fill="#00ff00"/>
<rect x="20" y="699" width="3" height="34" fill="#00ff00"/>
<rect x="36" y="699" width="3" height="38" fill="#00ff00"/>
<rect x="52" y="699" width="3" height="34" fill="#00ff00"/>
<rect x="68" y="699" width="3" height="34" fill="#00ff00"/>
<rect x="84" y="699" width="3" height="28" fill="#00ff00"/>
<rect x="100" y="699" width="3" height="23" fill="#00ff00"/>
<rect x="116" y="699" width="3" height="22" fill="#00ff00"/>
<rect x="132" y="699" width="3" height="21" fill="#00ff00"/>
<rect x="148" y="699" width="3" height="15" fill="#00ff00"/>
<rect x="164" y="699" width="3" height="11" fill="#00ff00"/>
<rect x="180" y="699" width="3" height="4" fill="#00ff00"/>
<rect x="196" y="697" width="3" height="2" fill="#00ff00"/>
<rect x="212" y="694" width="3" height="5" fill="#00ff00"/>
<rect x="228" y="691" width="3" height="8" fill="#00ff00"/>
<rect x="244" y="691" width="3" height="8" fill="#00ff00"/>
<rect x="260" y="690" width="3" height="9" fill="#00ff00"/>
<rect x="276" y="691" width="3" height="8" fill="#00ff00"/>
<rect x="292" y="692" width="3" height="7" fill="#00ff00"/>
<rect x="308" y="688" width="3" height="11" fill="#00ff00"/>
<rect x="324" y="683" width="3" height="16" fill="#00ff00"/>
<rect x="340" y="677" width="3" height="22" fill="#00ff00"/>
<rect x="356" y="673" width="3" height="26" fill="#00ff00"/>
<rect x="372" y="670" width="3" height="29" fill="#00ff00"/>
<rect x="388" y="668" width="3" height="31" fill="#00ff00"/>
<rect x="404" y="666" width="3" height="33" fill="#00ff00"/>
<rect x="420" y="663" width="3" height="36" fill="#00ff00"/>
<rect x="436" y="660" width="3" height="39" fill="#00ff00"/>
<rect x="452" y="659" width="3" height="40" fill="#00ff00"/>
<rect x="468" y="657" width="3" height="42" fill="#00ff00"/>
<rect x="484" y="658" width="3" height="41" fill="#00ff00"/>
<rect x="500" y="659" width="3" height="40" fill="#00ff00"/>
<rect x="516" y="660" width="3" height="39" fill="#00ff00"/>
<rect x="532" y="662" width="3" height="37" fill="#00ff00"/>
<rect x="548" y="664" width="3" height="35" fill="#00ff00"/>
<rect x="564" y="666" width="3" height="33" fill="#00ff00"/>
<rect x="580" y="670" width="3" height="29" fill="#00ff00"/>
<rect x="596" y="672" width="3" height="27" fill="#00ff00"/>
<rect x="612" y="674" width="3" height="25" fill="#00ff00"/>
<rect x="628" y="674" width="3" height="25" fill="#00ff00"/>
<rect x="644" y="674" width="3" height="25" fill="#00ff00"/>
<rect x="660" y="676" width="3" height="23" fill="#00ff00"/>
<rect x="676" y="678" width="3" height="21" fill="#00ff00"/>
<rect x="692" y="680" width="3" height="19" fill="#00ff00"/>
<rect x="708" y="682" width="3" height="17" fill="#00ff00"/>
<rect x="724" y="684" width="3" height="15" fill="#00ff00"/>
<rect x="740" y="687" width="3" height="12" fill="#00ff00"/>
<rect x="756" y="690" width="3" height="9" fill="#00ff00"/>
<rect x="772" y="692" width="3" height="7" fill="#00ff00"/>
<rect x="788" y="695" width="3" height="4" fill="#00ff00"/>
<rect x="804" y="697" width="3" height="2" fill="#00ff00"/>
<rect x="820" y="698" width="3" height="1" fill="#00ff00"/>
<rect x="836" y="698" width="3" height="1" fill="#00ff00"/>
<rect x="852" y="698" width="3" height="1" fill="#00ff00"/>
<rect x="868" y="699" width="3" height="2" fill="#00ff00"/>
<rect x="884" y="699" width="3" height="2" fill="#00ff00"/>
<rect x="900" y="699" width="3" height="4" fill="#00ff00"/>
<rect x="916" y="699" width="3" height="5" fill="#00ff00"/>
<rect x="948" y="696" width="3" height="3" fill="#00ff00"/>
<rect x="964" y="694" width="3" height="5" fill="#00ff00"/>
<rect x="980" y="690" width="3" height="9" fill="#00ff00"/>
<rect x="996" y="685" width="3" height="14" fill="#00ff00"/>
<rect x="1012" y="683" width="3" height="16" fill="#00ff00"/>
<rect x="1028" y="681" width="3" height="18" fill="#00ff00"/>
<rect x="1044" y="680" width="3" height="19" fill="#00ff00"/>
<rect x="1060" y="676" width="3" height="23" fill="#00ff00"/>
<rect x="1076" y="672" width="3" height="27" fill="#00ff00"/>
<rect x="1092" y="670" width="3" height="29" fill="#00ff00"/>
<rect x="1108" y="669" width="3" height="30" fill="#00ff00"/>
<rect x="1124" y="667" width="3" height="32" fill="#00ff00"/>
<rect x="1140" y="670" width="3" height="29" fill="#00ff00"/>
<rect x="1156" y="670" width="3" height="29" fill="#00ff00"/>
<rect x="1172" y="670" width="3" height="29" fill="#00ff00"/>
<rect x="1188" y="668" width="3" height="31" fill="#00ff00"/>
<rect x="1204" y="667" width="3" height="32" fill="#00ff00"/>
<rect x="1220" y="669" width="3" height="30" fill="#00ff00"/>
<rect x="1236" y="669" width="3" height="30" fill="#00ff00"/>
<rect x="1252" y="670" width="3" height="29" fill="#00ff00"/>
<rect x="1268" y="672" width="3" height="27" fill="#00ff00"/>
<rect x="1284" y="672" width="3" height="27" fill="#00ff00"/>
<rect x="1300" y="673" width="3" height="26" fill="#00ff00"/>
<rect x="1316" y="675" width="3" height="24" fill="#00ff00"/>
<rect x="1332" y="678" width="3" height="21" fill="#00ff00"/>
<polyline points="4.5,733.5 21.5,733.5 37.5,733.5 53.5,733.5 69.5,733.5 85.5,732.0 101.5,731.3 117.5,730.5 133.5,728.5 149.5,725.9 165.5,722.8 181.5,719.4 197.5,715.5 213.5,711.4 229.5,707.8 245.5,704.3 261.5,701.0 277.5,697.7 293.5,695.3 309.5,693.3 325.5,691.3 341.5,689.3 357.5,686.7 373.5,684.2 389.5,682.0 405.5,679.6 421.5,676.0 437.5,672.1 453.5,669.0 469.5,666.1 485.5,664.0 501.5,662.1 517.5,661.2 533.5,660.7 549.5,661.0 565.5,661.5 581.5,662.5 597.5,663.7 613.5,665.5 629.5,667.5 645.5,669.0 661.5,670.1 677.5,671.1 693.5,673.2 709.5,675.2 725.5,677.2 741.5,679.2 757.5,680.7 773.5,682.2 789.5,684.7 805.5,687.2 821.5,689.0 837.5,690.9 853.5,693.1 869.5,695.3 885.5,696.9 901.5,698.3 917.5,699.3 933.5,699.3 949.5,699.3 965.5,699.3 981.5,698.3 997.5,697.7 1013.5,695.6 1029.5,693.5 1045.5,690.4 1061.5,687.3 1077.5,684.5 1093.5,681.7 1109.5,679.1 1125.5,676.5 1141.5,674.8 1157.5,673.2 1173.5,671.9 1189.5,670.7 1205.5,669.9 1221.5,669.1 1237.5,669.1 1253.5,669.1 1269.5,669.6 1285.5,670.1 1301.5,670.6 1317.5,671.1 1333.5,671.8" fill="none" stroke="#ff0000" stroke-width="2"/>
</g>
<g shape-rendering="crispEdges">
<rect x="1642" y="653" width="2" height="1" fill="#000"/>
<rect x="1642" y="699" width="2" height="1" fill="#000"/>
<rect x="1642" y="739" width="2" height="1" fill="#000"/>
</g>
<text transform="translate(1645,664) scale(0.96,1)" font-size="10" fill="#000" text-anchor="start" stroke="#000" stroke-width="0.12">673.61</text>
<text transform="translate(1645,703) scale(0.96,1)" font-size="10" fill="#000" text-anchor="start" stroke="#000" stroke-width="0.12">0.00</text>
<text transform="translate(1645,737) scale(0.96,1)" font-size="10" fill="#000" text-anchor="start" stroke="#000" stroke-width="0.12">-590.17</text>
<text x="9.5" y="755" font-size="10" fill="#000" text-anchor="start" textLength="67.5" lengthAdjust="spacingAndGlyphs" stroke="#000" stroke-width="0.12">RSI(15) 54.9890</text>
<g clip-path="url(#crsi)" shape-rendering="crispEdges">
<line x1="6" y1="761.5" x2="1641" y2="761.5" stroke="#000" stroke-width="1" stroke-dasharray="3,3"/>
<line x1="6" y1="788.5" x2="1641" y2="788.5" stroke="#000" stroke-width="1" stroke-dasharray="3,3"/>
<line x1="6" y1="819.5" x2="1641" y2="819.5" stroke="#000" stroke-width="1" stroke-dasharray="3,3"/>
<polyline points="4.5,803.8 21.5,802.8 37.5,804.8 53.5,796.8 69.5,792.7 85.5,789.3 101.5,789.3 117.5,793.7 133.5,793.7 149.5,784.3 165.5,783.9 181.5,779.8 197.5,780.6 213.5,780.6 229.5,781.3 245.5,783.7 261.5,783.9 277.5,787.9 293.5,787.9 309.5,777.8 325.5,774.2 341.5,771.8 357.5,773.6 373.5,773.6 389.5,773.6 405.5,773.6 421.5,770.2 437.5,769.6 453.5,769.6 469.5,769.6 485.5,772.6 501.5,773.6 517.5,773.2 533.5,772.8 549.5,777.8 565.5,777.8 581.5,781.7 597.5,779.6 613.5,782.9 629.5,777.2 645.5,777.2 661.5,780.0 677.5,782.9 693.5,783.3 709.5,784.3 725.5,784.7 741.5,789.7 757.5,789.7 773.5,790.3 789.5,792.7 805.5,792.3 821.5,791.3 837.5,789.3 853.5,789.3 869.5,789.7 885.5,789.7 901.5,795.9 917.5,794.9 933.5,779.8 949.5,777.6 965.5,776.6 981.5,772.6 997.5,771.0 1013.5,773.1 1029.5,775.2 1045.5,775.2 1061.5,767.9 1077.5,767.9 1093.5,769.6 1109.5,769.6 1125.5,768.5 1141.5,781.8 1157.5,775.8 1173.5,775.8 1189.5,772.5 1205.5,772.0 1221.5,778.7 1237.5,779.7 1253.5,778.3 1269.5,777.6 1285.5,776.8 1301.5,776.8 1317.5,782.4 1333.5,783.9" fill="none" stroke="#1e90ff" stroke-width="2"/>
</g>
<g shape-rendering="crispEdges">
<rect x="1642" y="743" width="2" height="1" fill="#000"/>
<rect x="1642" y="832" width="2" height="1" fill="#000"/>
</g>
<text transform="translate(1645,753) scale(0.96,1)" font-size="10" fill="#000" text-anchor="start" stroke="#000" stroke-width="0.12">100</text>
<text transform="translate(1644,765) scale(0.96,1)" font-size="10" fill="#000" text-anchor="start" stroke="#000" stroke-width="0.12">80</text>
<text transform="translate(1644,792) scale(0.96,1)" font-size="10" fill="#000" text-anchor="start" stroke="#000" stroke-width="0.12">50</text>
<text transform="translate(1644,823.5) scale(0.96,1)" font-size="10" fill="#000" text-anchor="start" stroke="#000" stroke-width="0.12">15</text>
<text transform="translate(1644.5,830) scale(0.96,1)" font-size="10" fill="#000" text-anchor="start" stroke="#000" stroke-width="0.12">0</text>
<g shape-rendering="crispEdges">
<rect x="5" y="834" width="1" height="3" fill="#000"/>
<rect x="69" y="834" width="1" height="3" fill="#000"/>
<rect x="133" y="834" width="1" height="3" fill="#000"/>
<rect x="197" y="834" width="1" height="3" fill="#000"/>
<rect x="261" y="834" width="1" height="3" fill="#000"/>
<rect x="325" y="834" width="1" height="3" fill="#000"/>
<rect x="389" y="834" width="1" height="3" fill="#000"/>
<rect x="453" y="834" width="1" height="3" fill="#000"/>
<rect x="517" y="834" width="1" height="3" fill="#000"/>
<rect x="581" y="834" width="1" height="3" fill="#000"/>
<rect x="645" y="834" width="1" height="3" fill="#000"/>
<rect x="709" y="834" width="1" height="3" fill="#000"/>
<rect x="773" y="834" width="1" height="3" fill="#000"/>
<rect x="837" y="834" width="1" height="3" fill="#000"/>
<rect x="901" y="834" width="1" height="3" fill="#000"/>
<rect x="965" y="834" width="1" height="3" fill="#000"/>
<rect x="1029" y="834" width="1" height="3" fill="#000"/>
<rect x="1093" y="834" width="1" height="3" fill="#000"/>
<rect x="1157" y="834" width="1" height="3" fill="#000"/>
<rect x="1221" y="834" width="1" height="3" fill="#000"/>
<rect x="1285" y="834" width="1" height="3" fill="#000"/>
</g>
<text x="3.8" y="846" font-size="10" fill="#000" text-anchor="start" textLength="51.4" lengthAdjust="spacingAndGlyphs" stroke="#000" stroke-width="0.12">28 Oct 2022</text>
<text x="67.9" y="846" font-size="10" fill="#000" text-anchor="start" textLength="52.2" lengthAdjust="spacingAndGlyphs" stroke="#000" stroke-width="0.12">1 Nov 05:00</text>
<text x="132.0" y="846" font-size="10" fill="#000" text-anchor="start" textLength="52.2" lengthAdjust="spacingAndGlyphs" stroke="#000" stroke-width="0.12">3 Nov 05:00</text>
<text x="195.9" y="846" font-size="10" fill="#000" text-anchor="start" textLength="52.4" lengthAdjust="spacingAndGlyphs" stroke="#000" stroke-width="0.12">7 Nov 05:00</text>
<text x="260.0" y="846" font-size="10" fill="#000" text-anchor="start" textLength="52.1" lengthAdjust="spacingAndGlyphs" stroke="#000" stroke-width="0.12">9 Nov 05:00</text>
<text x="323.8" y="846" font-size="10" fill="#000" text-anchor="start" textLength="57.7" lengthAdjust="spacingAndGlyphs" stroke="#000" stroke-width="0.12">11 Nov 05:00</text>
<text x="387.9" y="846" font-size="10" fill="#000" text-anchor="start" textLength="57.3" lengthAdjust="spacingAndGlyphs" stroke="#000" stroke-width="0.12">14 Nov 13:15</text>
<text x="452.0" y="846" font-size="10" fill="#000" text-anchor="start" textLength="57.4" lengthAdjust="spacingAndGlyphs" stroke="#000" stroke-width="0.12">15 Nov 09:15</text>
<text x="515.9" y="846" font-size="10" fill="#000" text-anchor="start" textLength="57.6" lengthAdjust="spacingAndGlyphs" stroke="#000" stroke-width="0.12">16 Nov 05:00</text>
<text x="580.0" y="846" font-size="10" fill="#000" text-anchor="start" textLength="57.0" lengthAdjust="spacingAndGlyphs" stroke="#000" stroke-width="0.12">17 Nov 01:15</text>
<text x="643.8" y="846" font-size="10" fill="#000" text-anchor="start" textLength="57.7" lengthAdjust="spacingAndGlyphs" stroke="#000" stroke-width="0.12">17 Nov 17:15</text>
<text x="707.9" y="846" font-size="10" fill="#000" text-anchor="start" textLength="57.3" lengthAdjust="spacingAndGlyphs" stroke="#000" stroke-width="0.12">18 Nov 13:15</text>
<text x="772.0" y="846" font-size="10" fill="#000" text-anchor="start" textLength="57.4" lengthAdjust="spacingAndGlyphs" stroke="#000" stroke-width="0.12">22 Nov 01:15</text>
<text x="835.9" y="846" font-size="10" fill="#000" text-anchor="start" textLength="57.6" lengthAdjust="spacingAndGlyphs" stroke="#000" stroke-width="0.12">24 Nov 01:15</text>
<text x="900.0" y="846" font-size="10" fill="#000" text-anchor="start" textLength="57.0" lengthAdjust="spacingAndGlyphs" stroke="#000" stroke-width="0.12">28 Nov 01:15</text>
<text x="964.1" y="846" font-size="10" fill="#000" text-anchor="start" textLength="57.6" lengthAdjust="spacingAndGlyphs" stroke="#000" stroke-width="0.12">30 Nov 01:15</text>
<text x="1027.6" y="846" font-size="10" fill="#000" text-anchor="start" textLength="50.7" lengthAdjust="spacingAndGlyphs" stroke="#000" stroke-width="0.12">2 Dec 01:15</text>
<text x="1091.6" y="846" font-size="10" fill="#000" text-anchor="start" textLength="50.8" lengthAdjust="spacingAndGlyphs" stroke="#000" stroke-width="0.12">6 Dec 01:15</text>
<text x="1155.8" y="846" font-size="10" fill="#000" text-anchor="start" textLength="50.6" lengthAdjust="spacingAndGlyphs" stroke="#000" stroke-width="0.12">8 Dec 01:15</text>
<text x="1219.9" y="846" font-size="10" fill="#000" text-anchor="start" textLength="55.1" lengthAdjust="spacingAndGlyphs" stroke="#000" stroke-width="0.12">12 Dec 01:15</text>
<text x="1283.9" y="846" font-size="10" fill="#000" text-anchor="start" textLength="55.3" lengthAdjust="spacingAndGlyphs" stroke="#000" stroke-width="0.12">14 Dec 01:15</text>
</svg></body></html>
